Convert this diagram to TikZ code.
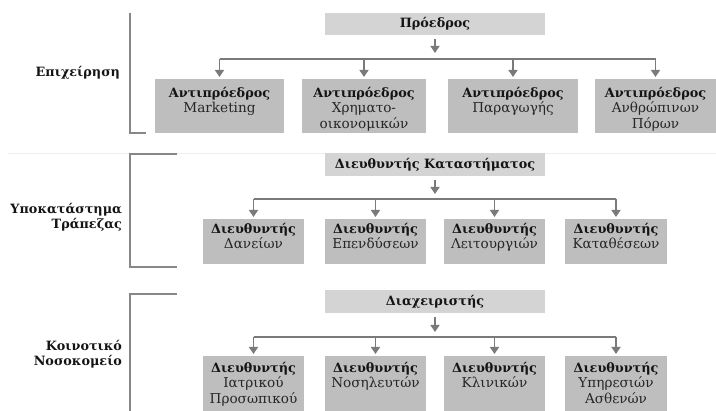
\documentclass[tikz,border=0pt]{standalone}
\usepackage{fontspec}
\setmainfont{DejaVu Serif}
\usetikzlibrary{arrows.meta}
\definecolor{headfill}{RGB}{212,212,212}
\definecolor{boxfill}{RGB}{190,190,190}
\definecolor{linkgray}{RGB}{122,122,122}
\definecolor{rulegray}{RGB}{135,135,135}
\definecolor{sepgray}{RGB}{238,238,238}
\newcommand\boldline[1]{{\bfseries\color{black!92}\fontsize{12.8}{15.5}\selectfont #1}}
\begin{document}
\begin{tikzpicture}[x=1pt,y=-1pt,
  every node/.style={inner sep=0pt,outer sep=0pt},
  headbox/.style={fill=headfill,minimum width=220pt,minimum height=23pt,
    font=\bfseries\fontsize{12.8}{15}\selectfont,text=black!92},
  unitbox/.style={fill=boxfill},
  unittext/.style={anchor=north,align=center,text=black!85,
    font=\fontsize{13.6}{15.5}\selectfont},
  sidelabel/.style={anchor=east,align=right,text=black!92,
    font=\bfseries\fontsize{12.8}{15}\selectfont},
  link/.style={draw=linkgray,line width=1.4pt},
  linkarrow/.style={link,-{Triangle[width=9pt,length=7pt]},fill=linkgray},
  bracket/.style={draw=rulegray,line width=1.3pt}]

\useasboundingbox (0,0) rectangle (716,411);

% faint separator between the first two groups
\draw[sepgray,line width=1pt] (8,154) -- (716,154);

% brackets on the left
\draw[bracket] (130,13) -- (130,133) -- (146,133);
\draw[bracket] (177,154) -- (130,154) -- (130,267) -- (177,267);
\draw[bracket] (177,294) -- (130,294) -- (130,411);

% group labels
\node[sidelabel] (lab1) at (120,73) {Επιχείρηση};
\node[sidelabel] (lab2) at (122,217) {Υποκατάστημα\\Τράπεζας};
\node[sidelabel] (lab3) at (122,354) {Κοινοτικό\\Νοσοκομείο};

% ---------- group 1 ----------
\node[headbox,minimum height=22pt] (p1) at (435,24) {Πρόεδρος};
\node[unitbox,minimum width=129pt,minimum height=54pt] (a1) at (219.5,106) {};
\node[unitbox,minimum width=124pt,minimum height=54pt] (a2) at (364,106) {};
\node[unitbox,minimum width=130pt,minimum height=54pt] (a3) at (513,106) {};
\node[unitbox,minimum width=121pt,minimum height=54pt] (a4) at (655.5,106) {};
\node[unittext,yshift=-8pt] (a1t) at (a1.north) {\boldline{Αντιπρόεδρος}\\Marketing};
\node[unittext,yshift=-8pt] (a2t) at (a2.north) {\boldline{Αντιπρόεδρος}\\Χρηματο-\\οικονομικών};
\node[unittext,yshift=-8pt] (a3t) at (a3.north) {\boldline{Αντιπρόεδρος}\\Παραγωγής};
\node[unittext,yshift=-8pt] (a4t) at (a4.north) {\boldline{Αντιπρόεδρος}\\Ανθρώπινων\\Πόρων};
\coordinate (bar1) at (435,59);
\draw[linkarrow,shorten <=4pt,shorten >=6pt] (p1.south) -- (bar1);
\draw[link] (a1.north |- bar1) -- (a4.north |- bar1);
\foreach \n in {a1,a2,a3,a4}
  \draw[linkarrow,shorten >=2pt] (\n.north |- bar1) -- (\n.north);

% ---------- group 2 ----------
\node[headbox] (p2) at (435,164.5) {Διευθυντής Καταστήματος};
\node[unitbox,minimum width=101pt,minimum height=45pt] (b1) at (253.5,241.5) {};
\node[unitbox,minimum width=101pt,minimum height=45pt] (b2) at (375.5,241.5) {};
\node[unitbox,minimum width=101pt,minimum height=45pt] (b3) at (494.5,241.5) {};
\node[unitbox,minimum width=102pt,minimum height=45pt] (b4) at (616,241.5) {};
\node[unittext,yshift=-4pt] (b1t) at (b1.north) {\boldline{Διευθυντής}\\Δανείων};
\node[unittext,yshift=-4pt] (b2t) at (b2.north) {\boldline{Διευθυντής}\\Επενδύσεων};
\node[unittext,yshift=-4pt] (b3t) at (b3.north) {\boldline{Διευθυντής}\\Λειτουργιών};
\node[unittext,yshift=-4pt] (b4t) at (b4.north) {\boldline{Διευθυντής}\\Καταθέσεων};
\coordinate (bar2) at (435,199);
\draw[linkarrow,shorten <=4pt,shorten >=5pt] (p2.south) -- (bar2);
\draw[link] (b1.north |- bar2) -- (b4.north |- bar2);
\foreach \n in {b1,b2,b3,b4}
  \draw[linkarrow,shorten >=2pt] (\n.north |- bar2) -- (\n.north);

% ---------- group 3 ----------
\node[headbox] (p3) at (435,301.5) {Διαχειριστής};
\node[unitbox,minimum width=101pt,minimum height=55pt] (c1) at (253.5,383.5) {};
\node[unitbox,minimum width=101pt,minimum height=55pt] (c2) at (375.5,383.5) {};
\node[unitbox,minimum width=101pt,minimum height=55pt] (c3) at (494.5,383.5) {};
\node[unitbox,minimum width=102pt,minimum height=55pt] (c4) at (616,383.5) {};
\node[unittext,yshift=-6pt] (c1t) at (c1.north) {\boldline{Διευθυντής}\\Ιατρικού\\Προσωπικού};
\node[unittext,yshift=-6pt] (c2t) at (c2.north) {\boldline{Διευθυντής}\\Νοσηλευτών};
\node[unittext,yshift=-6pt] (c3t) at (c3.north) {\boldline{Διευθυντής}\\Κλινικών};
\node[unittext,yshift=-6pt] (c4t) at (c4.north) {\boldline{Διευθυντής}\\Υπηρεσιών\\Ασθενών};
\coordinate (bar3) at (435,337);
\draw[linkarrow,shorten <=4pt,shorten >=5pt] (p3.south) -- (bar3);
\draw[link] (c1.north |- bar3) -- (c4.north |- bar3);
\foreach \n in {c1,c2,c3,c4}
  \draw[linkarrow,shorten >=2pt] (\n.north |- bar3) -- (\n.north);

\end{tikzpicture}
\end{document}
